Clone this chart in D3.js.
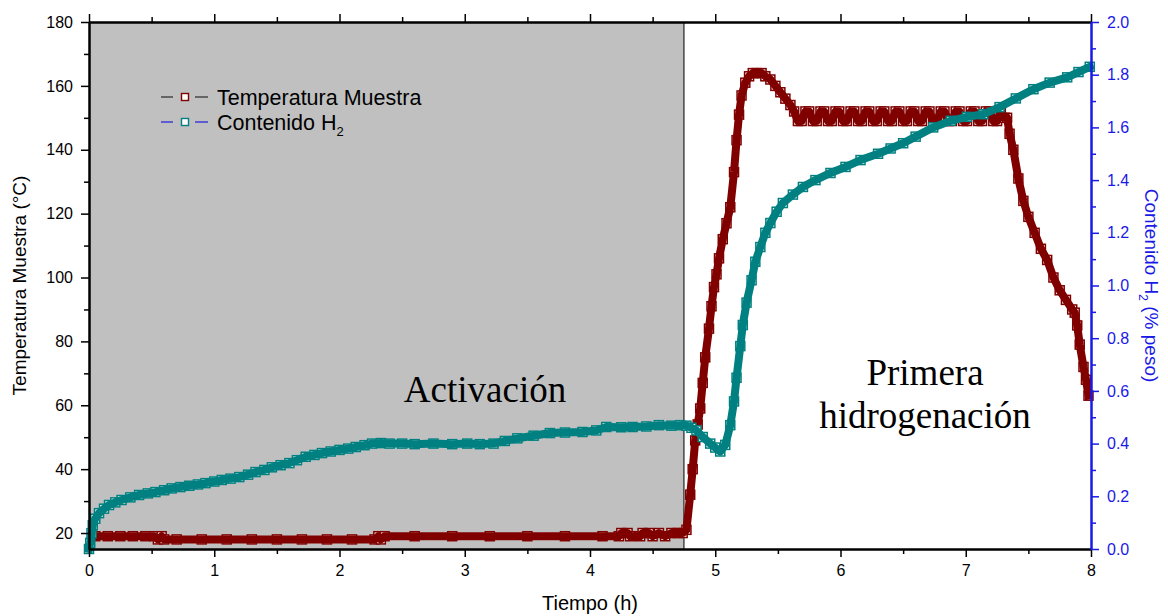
<!DOCTYPE html>
<html>
<head>
<meta charset="utf-8">
<script src="https://cdn.jsdelivr.net/npm/d3@7"></script>
<style>
  html, body { margin: 0; padding: 0; background: #fff; }
  svg { display: block; }
</style>
</head>
<body>
<svg id="chart" width="1168" height="616"></svg>
<script>
// ---------------- DATA ----------------
const xTicks = [0, 1, 2, 3, 4, 5, 6, 7, 8];
const xMinorTicks = [0.5, 1.5, 2.5, 3.5, 4.5, 5.5, 6.5, 7.5];
const leftTicks = [20, 40, 60, 80, 100, 120, 140, 160, 180];
const leftMinorTicks = [30, 50, 70, 90, 110, 130, 150, 170];
const rightTicks = [0.0, 0.2, 0.4, 0.6, 0.8, 1.0, 1.2, 1.4, 1.6, 1.8, 2.0];
const rightMinorTicks = [0.1, 0.3, 0.5, 0.7, 0.9, 1.1, 1.3, 1.5, 1.7, 1.9];

const activationEnd = 4.75;

// Temperatura Muestra (°C) vs Tiempo (h)
const tempTime = [
  0.05, 0.15, 0.25, 0.35, 0.45, 0.52, 0.55, 0.58, 0.60, 0.70, 0.90, 1.10, 1.30, 1.50, 1.70, 1.90, 2.10, 2.28,
  2.31, 2.33, 2.36, 2.60, 2.90, 3.20, 3.50, 3.80, 4.10, 4.23, 4.25, 4.30, 4.32, 4.40, 4.42, 4.47, 4.50, 4.55,
  4.60, 4.65, 4.70, 4.74, 4.77, 4.80, 4.82, 4.84, 4.86, 4.88, 4.90, 4.92, 4.95, 4.97, 4.99, 5.01, 5.03, 5.06,
  5.09, 5.12, 5.15, 5.17, 5.19, 5.21, 5.24, 5.27, 5.30, 5.33, 5.37, 5.40, 5.44, 5.48, 5.52, 5.56, 5.60, 5.63,
  5.66, 5.69, 5.72, 5.75, 5.78, 5.81, 5.84, 5.87, 5.90, 5.93, 5.96, 5.99, 6.02, 6.05, 6.08, 6.11, 6.14, 6.17,
  6.20, 6.23, 6.26, 6.29, 6.32, 6.35, 6.38, 6.41, 6.44, 6.47, 6.50, 6.53, 6.56, 6.59, 6.62, 6.65, 6.68, 6.71,
  6.74, 6.77, 6.80, 6.83, 6.86, 6.89, 6.92, 6.95, 6.98, 7.01, 7.04, 7.07, 7.10, 7.13, 7.16, 7.19, 7.22, 7.25,
  7.28, 7.31, 7.33, 7.35, 7.38, 7.42, 7.46, 7.50, 7.55, 7.60, 7.65, 7.70, 7.75, 7.80, 7.85, 7.87, 7.89, 7.91,
  7.94, 7.96, 7.98
];
const tempValue = [
  19, 19, 19, 19, 19, 19, 18, 19, 18, 18, 18, 18, 18, 18, 18, 18, 18, 18,
  19, 18, 19, 19, 19, 19, 19, 19, 19, 19, 20, 20, 19, 19, 20, 20, 19, 20,
  19, 20, 20, 20, 21, 32, 40, 49, 54, 59, 67, 75, 84, 91, 97, 101, 106, 112,
  117, 122, 133, 143, 151, 157, 161, 163, 164, 164, 164, 163, 162, 160, 158, 156, 154, 152,
  149, 149, 152, 152, 149, 149, 152, 152, 149, 149, 152, 152, 149, 149, 152, 152, 149, 149,
  152, 152, 149, 149, 152, 152, 149, 149, 152, 152, 149, 149, 152, 152, 149, 149, 152, 152,
  149, 149, 152, 152, 149, 149, 152, 152, 149, 149, 152, 152, 149, 149, 152, 152, 149, 149,
  152, 150, 150, 145, 140, 131, 124, 119, 114, 109, 105.5, 100, 96, 93, 90, 89, 85, 79,
  72, 68, 63
];

// Contenido H2 (% peso) vs Tiempo (h)
const h2Time = [
  0.00, 0.01, 0.02, 0.03, 0.05, 0.08, 0.12, 0.16, 0.21, 0.26, 0.33, 0.40, 0.47, 0.53, 0.60, 0.66, 0.73, 0.80,
  0.87, 0.93, 1.00, 1.06, 1.13, 1.20, 1.27, 1.33, 1.40, 1.46, 1.53, 1.60, 1.66, 1.73, 1.80, 1.86, 1.93, 2.00,
  2.07, 2.13, 2.20, 2.26, 2.33, 2.40, 2.50, 2.60, 2.75, 2.90, 3.02, 3.12, 3.23, 3.32, 3.42, 3.55, 3.68, 3.80,
  3.94, 4.05, 4.13, 4.25, 4.34, 4.45, 4.55, 4.65, 4.72, 4.77, 4.81, 4.85, 4.90, 4.96, 5.00, 5.04, 5.08, 5.12,
  5.15, 5.17, 5.20, 5.22, 5.25, 5.29, 5.32, 5.36, 5.40, 5.44, 5.49, 5.54, 5.62, 5.70, 5.80, 5.92, 6.04, 6.16,
  6.30, 6.40, 6.50, 6.60, 6.74, 6.88, 7.01, 7.14, 7.27, 7.40, 7.54, 7.67, 7.81, 7.90, 7.99
];
const h2Value = [
  0.000, 0.023, 0.060, 0.090, 0.115, 0.136, 0.153, 0.167, 0.177, 0.186, 0.196, 0.205, 0.211, 0.216, 0.223, 0.230, 0.235, 0.240,
  0.245, 0.250, 0.256, 0.262, 0.267, 0.273, 0.282, 0.292, 0.300, 0.310, 0.318, 0.326, 0.337, 0.350, 0.357, 0.364, 0.370, 0.376,
  0.381, 0.387, 0.394, 0.400, 0.402, 0.400, 0.400, 0.398, 0.400, 0.398, 0.400, 0.398, 0.400, 0.410, 0.420, 0.430, 0.440, 0.442,
  0.444, 0.450, 0.463, 0.462, 0.463, 0.465, 0.470, 0.468, 0.470, 0.468, 0.460, 0.450, 0.425, 0.400, 0.385, 0.370, 0.395, 0.470,
  0.560, 0.650, 0.770, 0.850, 0.935, 1.020, 1.090, 1.146, 1.200, 1.237, 1.280, 1.313, 1.345, 1.374, 1.400, 1.427, 1.450, 1.476,
  1.500, 1.520, 1.540, 1.565, 1.600, 1.625, 1.640, 1.650, 1.677, 1.710, 1.745, 1.770, 1.790, 1.810, 1.830
];

const legendItems = [
  { name: "Temperatura Muestra", sub: "", stroke: "#800000", line: "#333333" },
  { name: "Contenido H", sub: "2", stroke: "#008080", line: "#2828d8" }
];

// ---------------- CHART ----------------
const svg = d3.select("#chart");
const L = 89, R = 1091, T = 22, B = 549;
const FONT = "'Liberation Sans', Arial, sans-serif";
const SERIF = "'Liberation Serif', 'Times New Roman', serif";
const BLUE = "#1a1ae6";

const x = d3.scaleLinear().domain([0, 8]).range([L, R]);
const yL = d3.scaleLinear().domain([15, 180]).range([B, T]);
const yR = d3.scaleLinear().domain([0, 2]).range([B, T]);

svg.append("rect").attr("width", 1168).attr("height", 616).attr("fill", "#fff");

// activation shaded region
svg.append("rect")
  .attr("x", x(0)).attr("y", T)
  .attr("width", x(activationEnd) - x(0)).attr("height", B - T)
  .attr("fill", "#c0c0c0");
svg.append("line")
  .attr("x1", x(activationEnd)).attr("x2", x(activationEnd))
  .attr("y1", T).attr("y2", B)
  .attr("stroke", "#222").attr("stroke-width", 1.2);

// series drawing
const MS = 9;
function drawSeries(times, values, yScale, color) {
  const pts = times.map((t, i) => [t, values[i]]);
  const g = svg.append("g");
  g.selectAll("rect").data(pts).enter().append("rect")
    .attr("x", d => x(d[0]) - MS / 2)
    .attr("y", d => yScale(d[1]) - MS / 2)
    .attr("width", MS).attr("height", MS)
    .attr("fill", "#fff").attr("stroke", color).attr("stroke-width", 1.5);
  const line = d3.line().x(d => x(d[0])).y(d => yScale(d[1]));
  g.append("path").attr("d", line(pts))
    .attr("fill", "none").attr("stroke", color)
    .attr("stroke-width", 8).attr("stroke-linejoin", "round").attr("stroke-linecap", "square");
}
drawSeries(tempTime, tempValue, yL, "#800000");
drawSeries(h2Time, h2Value, yR, "#008080");

// axes
function styleAxis(g, color, width) {
  g.select(".domain").attr("stroke", color).attr("stroke-width", width);
  g.selectAll(".tick line").attr("stroke", color).attr("stroke-width", 1.5);
  g.selectAll(".tick text").attr("fill", color).style("font-family", FONT).style("font-size", "16px");
}

// bottom
const gxMinor = svg.append("g").attr("transform", `translate(0,${B})`)
  .call(d3.axisBottom(x).tickValues(xMinorTicks).tickSize(5).tickSizeOuter(0).tickFormat(""));
styleAxis(gxMinor, "#000", 2);
const gx = svg.append("g").attr("transform", `translate(0,${B})`)
  .call(d3.axisBottom(x).tickValues(xTicks).tickSize(8).tickPadding(8).tickSizeOuter(0).tickFormat(d3.format("d")));
styleAxis(gx, "#000", 2);

// top
const gtMinor = svg.append("g").attr("transform", `translate(0,${T})`)
  .call(d3.axisTop(x).tickValues(xMinorTicks).tickSize(5).tickSizeOuter(0).tickFormat(""));
styleAxis(gtMinor, "#000", 2);
const gt = svg.append("g").attr("transform", `translate(0,${T})`)
  .call(d3.axisTop(x).tickValues(xTicks).tickSize(8).tickSizeOuter(0).tickFormat(""));
styleAxis(gt, "#000", 2);

// left
const gyMinor = svg.append("g").attr("transform", `translate(${L},0)`)
  .call(d3.axisLeft(yL).tickValues(leftMinorTicks).tickSize(5).tickSizeOuter(0).tickFormat(""));
styleAxis(gyMinor, "#000", 2);
const gy = svg.append("g").attr("transform", `translate(${L},0)`)
  .call(d3.axisLeft(yL).tickValues(leftTicks).tickSize(8).tickPadding(8).tickSizeOuter(0).tickFormat(d3.format("d")));
styleAxis(gy, "#000", 2);

// right
const grMinor = svg.append("g").attr("transform", `translate(${R},0)`)
  .call(d3.axisRight(yR).tickValues(rightMinorTicks).tickSize(5).tickSizeOuter(0).tickFormat(""));
styleAxis(grMinor, BLUE, 2);
const gr = svg.append("g").attr("transform", `translate(${R},0)`)
  .call(d3.axisRight(yR).tickValues(rightTicks).tickSize(8).tickPadding(8).tickSizeOuter(0).tickFormat(d3.format(".1f")));
styleAxis(gr, BLUE, 2);

// axis titles
svg.append("text")
  .attr("transform", `translate(26,${(T + B) / 2}) rotate(-90)`)
  .attr("text-anchor", "middle")
  .style("font-family", FONT).style("font-size", "19px")
  .text("Temperatura Muestra (°C)");

svg.append("text")
  .attr("x", (L + R) / 2).attr("y", 610)
  .attr("text-anchor", "middle")
  .style("font-family", FONT).style("font-size", "20px")
  .text("Tiempo (h)");

const rt = svg.append("text")
  .attr("transform", `translate(1145,${(T + B) / 2}) rotate(90)`)
  .attr("text-anchor", "middle")
  .attr("fill", BLUE)
  .style("font-family", FONT).style("font-size", "19px");
rt.append("tspan").text("Contenido H");
rt.append("tspan").attr("dy", 6).style("font-size", "12px").text("2");
rt.append("tspan").attr("dy", -6).text(" (% peso)");

// annotations
svg.append("text").attr("x", 485).attr("y", 402).attr("text-anchor", "middle")
  .style("font-family", SERIF).style("font-size", "37px").text("Activación");
svg.append("text").attr("x", 925).attr("y", 385).attr("text-anchor", "middle")
  .style("font-family", SERIF).style("font-size", "37px").text("Primera");
svg.append("text").attr("x", 925).attr("y", 428).attr("text-anchor", "middle")
  .style("font-family", SERIF).style("font-size", "37px").text("hidrogenación");

// legend
const legend = svg.append("g");
legendItems.forEach((it, i) => {
  const cy = 97 + i * 25;
  const g = legend.append("g");
  g.append("line").attr("x1", 161).attr("x2", 173).attr("y1", cy).attr("y2", cy)
    .attr("stroke", it.line).attr("stroke-width", 1.3);
  g.append("line").attr("x1", 195).attr("x2", 208).attr("y1", cy).attr("y2", cy)
    .attr("stroke", it.line).attr("stroke-width", 1.3);
  g.append("rect").attr("x", 181.5).attr("y", cy - 3.5).attr("width", 7).attr("height", 7)
    .attr("fill", "#fff").attr("stroke", it.stroke).attr("stroke-width", 1.4);
  const t = g.append("text").attr("x", 217).attr("y", cy + 7.5)
    .style("font-family", FONT).style("font-size", "21.5px");
  t.append("tspan").text(it.name);
  if (it.sub) t.append("tspan").attr("dy", 6).style("font-size", "13px").text(it.sub);
});
</script>
</body>
</html>
